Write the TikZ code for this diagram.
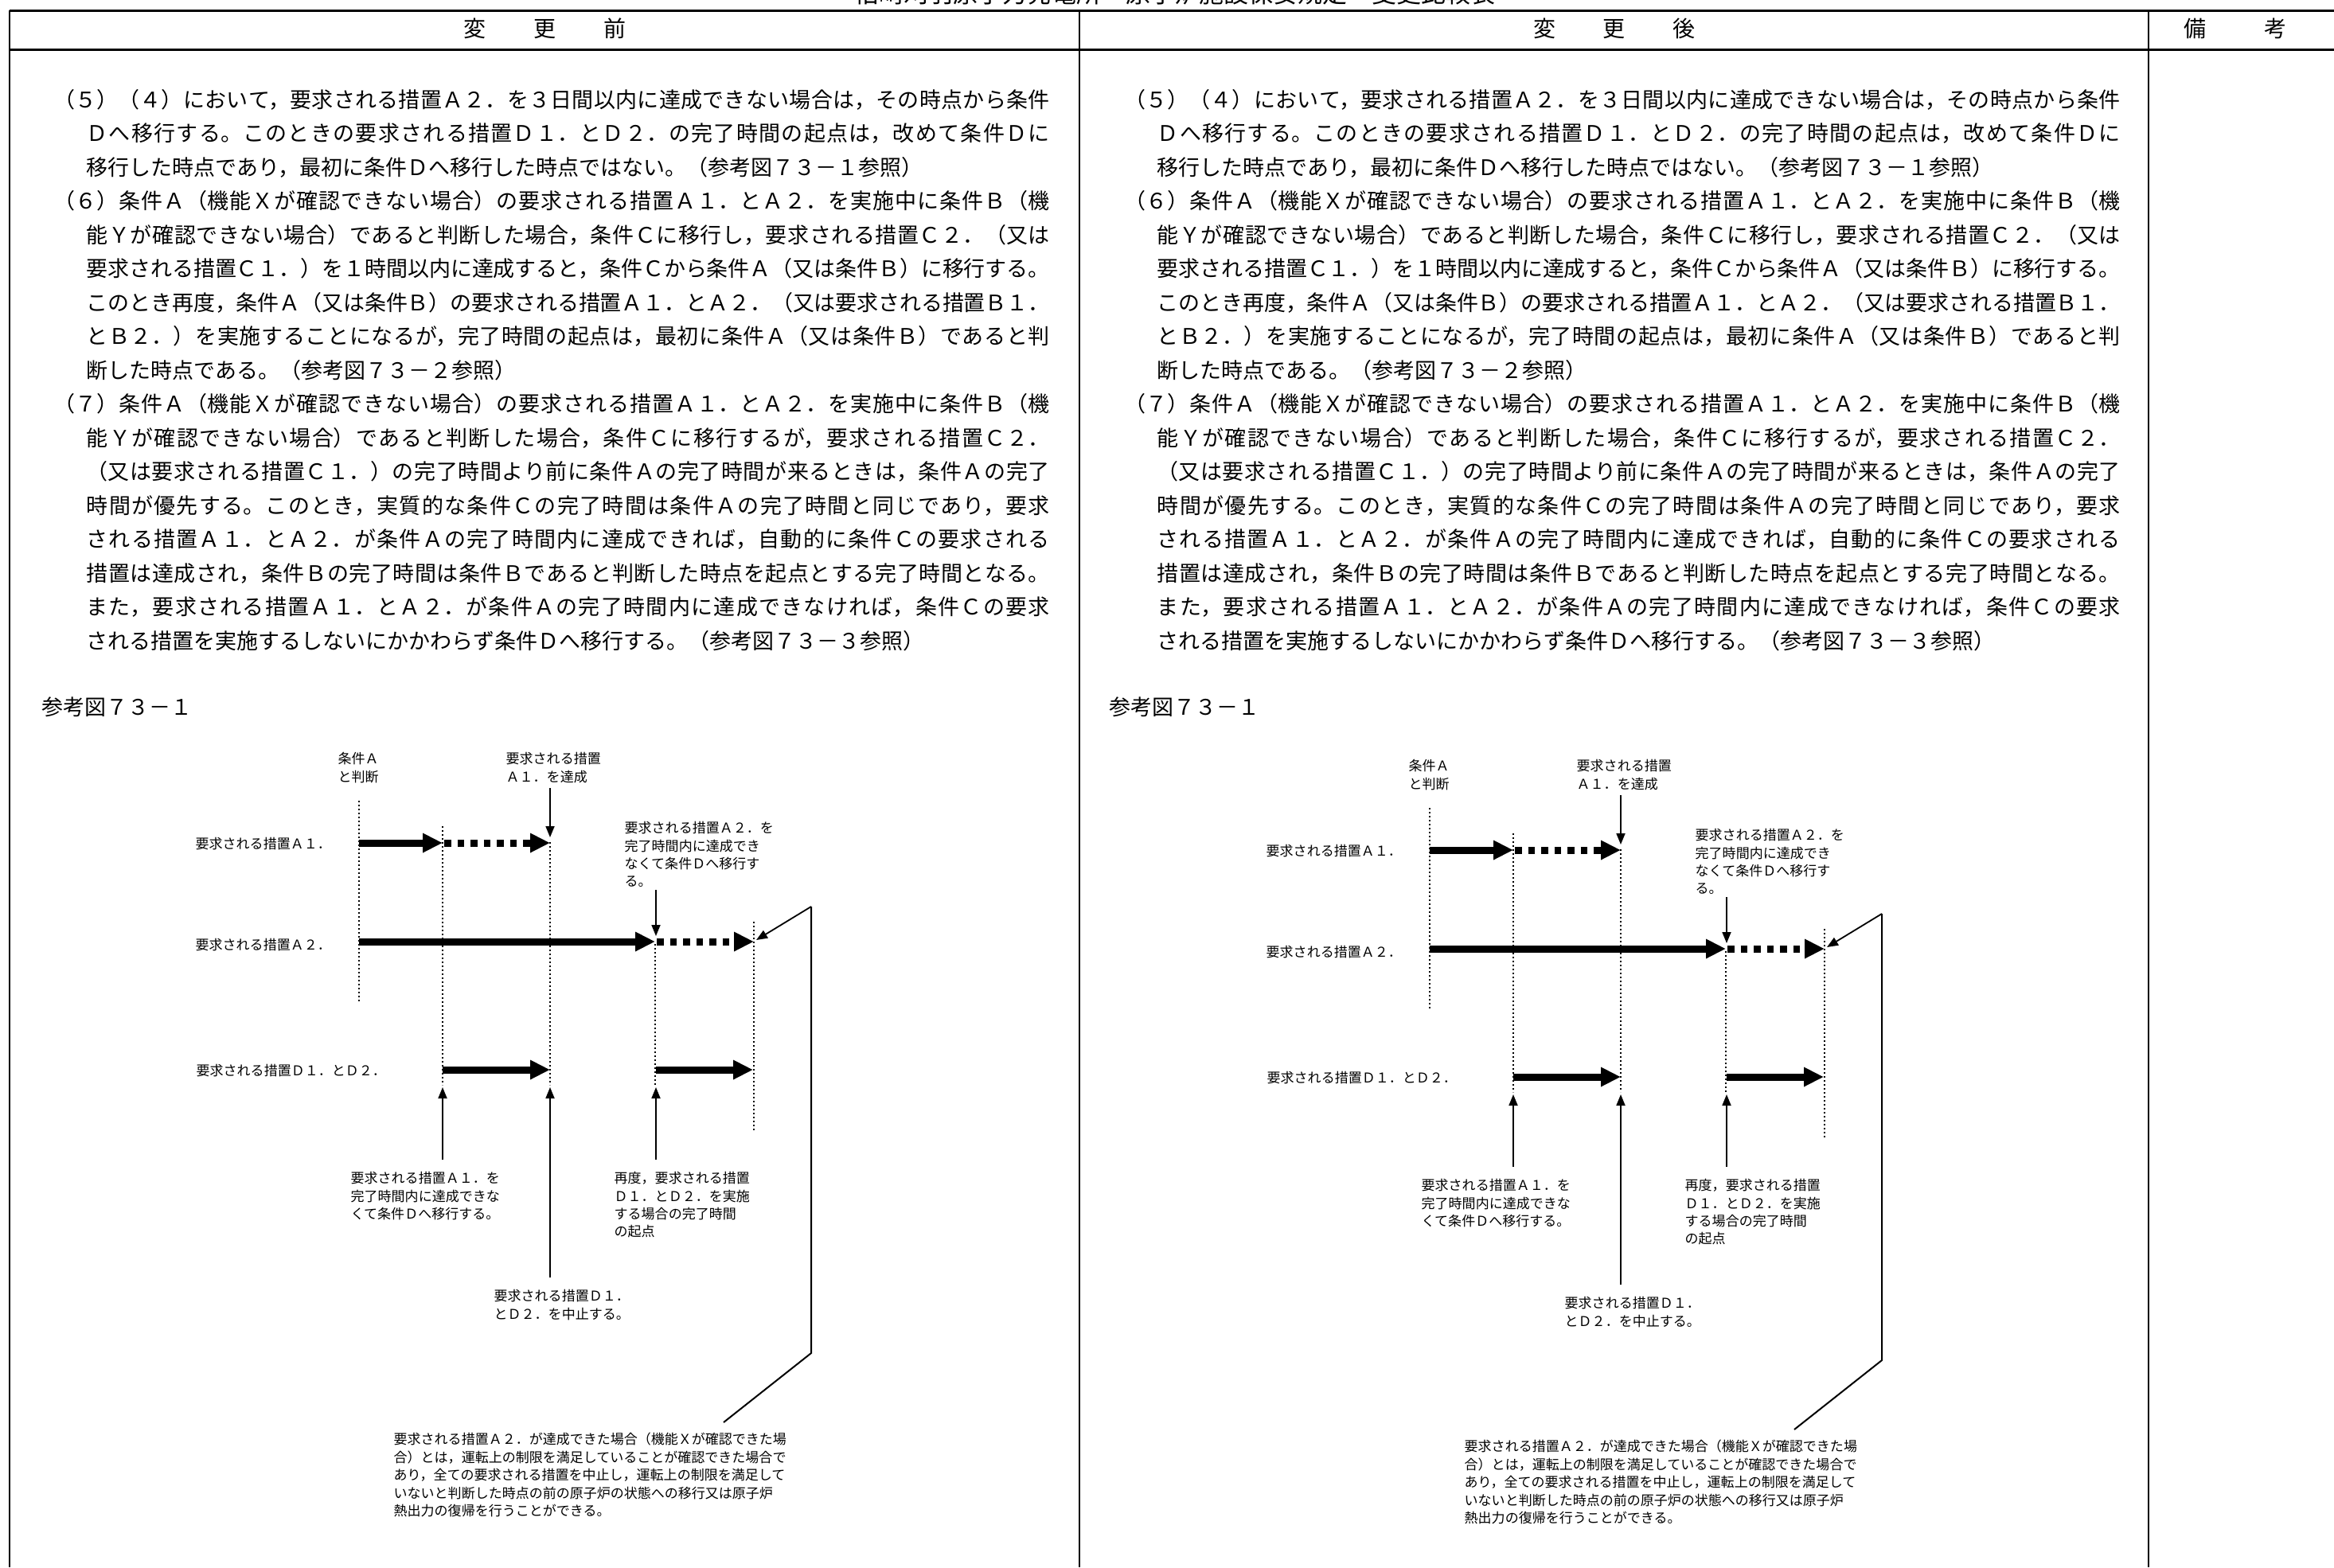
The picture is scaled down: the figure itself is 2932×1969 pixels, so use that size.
\documentclass[tikz,border=0pt]{standalone}
\usepackage{fontspec}
\setmainfont{Noto Sans CJK JP}
\usetikzlibrary{arrows.meta}
\XeTeXlinebreaklocale "ja"
\XeTeXlinebreakskip=0pt plus 2pt minus 0.4pt
\XeTeXlinebreakpenalty=10000
\newcommand\bodyfnt{\fontsize{7.68pt}{12.09pt}\selectfont}
\newcommand\smallfnt{\fontsize{4.84pt}{6.4pt}\selectfont}
\newcommand\bfirst[1]{{\leftskip=0pt\parfillskip=0pt\relax#1\par}}
\newcommand\bcont[1]{{\leftskip=4.1mm\parfillskip=0pt\relax#1\par}}
\newcommand\blast[1]{{\leftskip=4.1mm\relax#1\par}}
\newcommand\lines[1]{\begin{tabular}[t]{@{}l@{}}#1\end{tabular}}
\newcommand\bodytext{\parbox[t]{125.1mm}{\bodyfnt%
\bfirst{（５）（４）において，要求される措置Ａ２．を３日間以内に達成できない場合は，その時点から条件}%
\bcont{Ｄへ移行する。このときの要求される措置Ｄ１．とＤ２．の完了時間の起点は，改めて条件Ｄに}%
\blast{移行した時点であり，最初に条件Ｄへ移行した時点ではない。（参考図７３－１参照）}%
\bfirst{（６）条件Ａ（機能Ｘが確認できない場合）の要求される措置Ａ１．とＡ２．を実施中に条件Ｂ（機}%
\bcont{能Ｙが確認できない場合）であると判断した場合，条件Ｃに移行し，要求される措置Ｃ２．（又は}%
\bcont{要求される措置Ｃ１．）を１時間以内に達成すると，条件Ｃから条件Ａ（又は条件Ｂ）に移行する。}%
\bcont{このとき再度，条件Ａ（又は条件Ｂ）の要求される措置Ａ１．とＡ２．（又は要求される措置Ｂ１．}%
\bcont{とＢ２．）を実施することになるが，完了時間の起点は，最初に条件Ａ（又は条件Ｂ）であると判}%
\blast{断した時点である。（参考図７３－２参照）}%
\bfirst{（７）条件Ａ（機能Ｘが確認できない場合）の要求される措置Ａ１．とＡ２．を実施中に条件Ｂ（機}%
\bcont{能Ｙが確認できない場合）であると判断した場合，条件Ｃに移行するが，要求される措置Ｃ２．}%
\bcont{（又は要求される措置Ｃ１．）の完了時間より前に条件Ａの完了時間が来るときは，条件Ａの完了}%
\bcont{時間が優先する。このとき，実質的な条件Ｃの完了時間は条件Ａの完了時間と同じであり，要求}%
\bcont{される措置Ａ１．とＡ２．が条件Ａの完了時間内に達成できれば，自動的に条件Ｃの要求される}%
\bcont{措置は達成され，条件Ｂの完了時間は条件Ｂであると判断した時点を起点とする完了時間となる。}%
\bcont{また，要求される措置Ａ１．とＡ２．が条件Ａの完了時間内に達成できなければ，条件Ｃの要求}%
\blast{される措置を実施するしないにかかわらず条件Ｄへ移行する。（参考図７３－３参照）}%
}}
\newcommand\refdiagram[1]{%
\coordinate (#1v1t) at (451,1006); \coordinate (#1v1b) at (451,1260);
\coordinate (#1v2t) at (556,1038); \coordinate (#1v2b) at (556,1363);
\coordinate (#1v3t) at (691,1058); \coordinate (#1v3b) at (691,1363);
\coordinate (#1v4t) at (823,1186); \coordinate (#1v4b) at (823,1363);
\coordinate (#1v5t) at (947,1158); \coordinate (#1v5b) at (947,1420);
\draw[vdot] (#1v1t) -- (#1v1b);
\draw[vdot] (#1v2t) -- (#1v2b);
\draw[vdot] (#1v3t) -- (#1v3b);
\draw[vdot] (#1v4t) -- (#1v4b);
\draw[vdot] (#1v5t) -- (#1v5b);
\coordinate (#1a1s) at (451,1059); \coordinate (#1a1m) at (556,1059);
\coordinate (#1a1d) at (558,1059); \coordinate (#1a1e) at (691,1059);
\coordinate (#1a2s) at (451,1183); \coordinate (#1a2m) at (823,1183);
\coordinate (#1a2d) at (825,1183); \coordinate (#1a2e) at (947,1183);
\coordinate (#1d1s) at (556,1344); \coordinate (#1d1e) at (691,1344);
\coordinate (#1d2s) at (824,1344); \coordinate (#1d2e) at (946,1344);
\draw[thickar] (#1a1s) -- (#1a1m);
\draw[dashar] (#1a1d) -- (#1a1e);
\draw[thickar] (#1a2s) -- (#1a2m);
\draw[dashar] (#1a2d) -- (#1a2e);
\draw[thickar] (#1d1s) -- (#1d1e);
\draw[thickar] (#1d2s) -- (#1d2e);
\coordinate (#1p1s) at (691,990); \coordinate (#1p1e) at (691,1052);
\coordinate (#1p2s) at (824,1118); \coordinate (#1p2e) at (824,1176);
\coordinate (#1q) at (1019,1139); \coordinate (#1p3e) at (950,1181);
\coordinate (#1qb) at (1019,1700); \coordinate (#1qn) at (909,1787);
\coordinate (#1u1s) at (556,1457); \coordinate (#1u1e) at (556,1366);
\coordinate (#1u2s) at (691,1605); \coordinate (#1u2e) at (691,1366);
\coordinate (#1u3s) at (824,1457); \coordinate (#1u3e) at (824,1366);
\draw[thinar] (#1p1s) -- (#1p1e);
\draw[thinar] (#1p2s) -- (#1p2e);
\draw[thinar] (#1q) -- (#1p3e);
\draw[thinln] (#1q) -- (#1qb) -- (#1qn);
\draw[thinar] (#1u1s) -- (#1u1e);
\draw[thinar] (#1u2s) -- (#1u2e);
\draw[thinar] (#1u3s) -- (#1u3e);
\node[lbl] (#1condA) at (424,959.5) {\lines{条件Ａ\\と判断}};
\node[lbl] (#1achA) at (635,959.5) {\lines{要求される措置\\Ａ１．を達成}};
\node[lbl] (#1failA2) at (784,1046.5) {\lines{要求される措置Ａ２．を\\完了時間内に達成でき\\なくて条件Ｄへ移行す\\る。}};
\node[lbl] (#1rowA1) at (245,1066.5) {要求される措置Ａ１．};
\node[lbl] (#1rowA2) at (245,1193.5) {要求される措置Ａ２．};
\node[lbl] (#1rowD) at (246,1351.5) {要求される措置Ｄ１．とＤ２．};
\node[lbl] (#1failA1) at (440,1486.5) {\lines{要求される措置Ａ１．を\\完了時間内に達成できな\\くて条件Ｄへ移行する。}};
\node[lbl] (#1restart) at (771,1486.5) {\lines{再度，要求される措置\\Ｄ１．とＤ２．を実施\\する場合の完了時間\\の起点}};
\node[lbl] (#1stopD) at (620,1634.5) {\lines{要求される措置Ｄ１．\\とＤ２．を中止する。}};
\node[lbl] (#1note) at (494,1814.5) {\lines{要求される措置Ａ２．が達成できた場合（機能Ｘが確認できた場\\合）とは，運転上の制限を満足していることが確認できた場合で\\あり，全ての要求される措置を中止し，運転上の制限を満足して\\いないと判断した時点の前の原子炉の状態への移行又は原子炉\\熱出力の復帰を行うことができる。}};
}
\begin{document}
\begin{tikzpicture}[x=0.1mm,y=-0.1mm,
  frame/.style={line width=0.3mm},
  vline/.style={line width=0.2mm},
  vdot/.style={line width=0.15mm,dash pattern=on 0.15mm off 0.35mm},
  thickar/.style={line width=0.9mm,-{Triangle[length=2.5mm,width=2.3mm]}},
  dashar/.style={thickar,dash pattern=on 0.85mm off 0.8mm},
  thinar/.style={line width=0.18mm,-{Triangle[length=1.4mm,width=1.1mm]}},
  thinln/.style={line width=0.2mm},
  lbl/.style={inner sep=0pt,anchor=base west,font=\smallfnt},
  head/.style={inner sep=0pt,font=\fontsize{7.97pt}{10pt}\selectfont},
  body/.style={inner sep=0pt,anchor=base west}]
\useasboundingbox (0,0) rectangle (2932,1969);
\clip (0,0) rectangle (2932,1969);
\fill[white] (0,0) rectangle (2932,1969);
% title (cut off at top)
\node[inner sep=0pt,anchor=base,font=\fontsize{8.8pt}{10pt}\selectfont] (title) at (1476,3) {柏崎刈羽原子力発電所　原子炉施設保安規定　変更比較表};
% table frame
\coordinate (tl) at (12,13); \coordinate (tr) at (2932,13);
\coordinate (hl) at (12,62); \coordinate (hr) at (2932,62);
\coordinate (bl) at (12,1969);
\coordinate (s1t) at (1356,13); \coordinate (s1b) at (1356,1969);
\coordinate (s2t) at (2699,13); \coordinate (s2b) at (2699,1969);
\draw[frame] (tl) -- (tr);
\draw[frame] (hl) -- (hr);
\draw[vline] (tl) -- (bl);
\draw[vline] (s1t) -- (s1b);
\draw[vline] (s2t) -- (s2b);
\node[head] (hbefore) at (685,36) {変\hspace*{6mm}更\hspace*{6mm}前};
\node[head] (hafter) at (2028,36) {変\hspace*{6mm}更\hspace*{6mm}後};
\node[head] (hnote) at (2808,36) {備\hspace*{7.3mm}考};
% body text
\node[body] (textL) at (67,135.3) {\bodytext};
\node[body] (textR) at (1412,135.3) {\bodytext};
\node[body,font=\bodyfnt] (figL) at (52,898) {参考図７３－１};
\node[body,font=\bodyfnt] (figR) at (1393,898) {参考図７３－１};
% diagrams
\refdiagram{L}
\begin{scope}[shift={(1345,9)}]
\refdiagram{R}
\end{scope}
\end{tikzpicture}
\end{document}
